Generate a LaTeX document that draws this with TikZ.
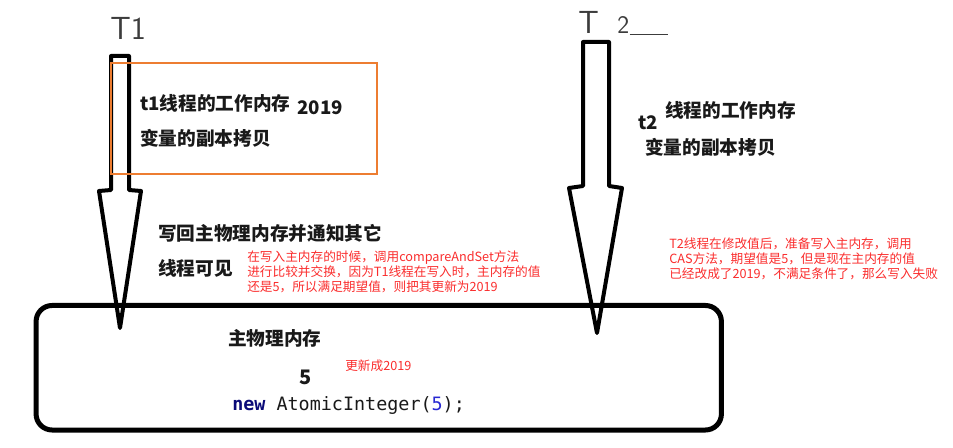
\documentclass[tikz,border=0pt]{standalone}
\usepackage{fontspec}
\usepackage{tikz}
\usetikzlibrary{arrows.meta}
\newfontfamily\cjk{Noto Sans CJK SC}
\newfontfamily\codefont{DejaVu Sans Mono}
\definecolor{inkblack}{RGB}{25,25,25}
\definecolor{pengray}{RGB}{60,60,60}
\definecolor{copyorange}{RGB}{237,125,49}
\definecolor{notered}{RGB}{250,45,45}
\definecolor{keynavy}{RGB}{10,10,120}
\definecolor{numblue}{RGB}{40,40,210}
\tikzset{
  boldtext/.style={inkblack, inner sep=0pt, anchor=west, font=\cjk\bfseries\fontsize{14}{16}\selectfont},
  notetext/.style={notered, inner sep=0pt, anchor=west, align=left, font=\cjk\fontsize{9.5}{11.25}\selectfont},
  handtext/.style={pengray, inner sep=0pt, anchor=base west, font=\sffamily\fontsize{24}{24}\selectfont},
  threadarrow/.style={black, line width=3pt, line join=round},
  membox/.style={draw, black, line width=3.75pt, rounded corners=12pt, inner sep=0pt, minimum width=514pt, minimum height=93.4pt},
}

\begin{document}
\begin{tikzpicture}[x=0.75pt, y=-0.75pt]
  \useasboundingbox (0,0) rectangle (953,448);
  % Thread T1
  \node[handtext] (t1label) at (110,40) {T1};
  \draw[threadarrow] (111,56) -- (129,56) -- (129,190) -- (141,191) -- (120,328) -- (99,191) -- (111,190) -- cycle;
  \draw[copyorange, line width=1.6pt] (111,63) rectangle (377,174);
  \node[boldtext] (t1copy) at (140,103) {t1线程的工作内存};
  \node[boldtext] (t1val) at (297,108) {2019};
  \node[boldtext] (t1var) at (140,138) {变量的副本拷贝};
  \node[boldtext] (writeback) at (158,233) {写回主物理内存并通知其它};
  \node[boldtext] (visible) at (158,268) {线程可见};
  \node[notetext] (casnote) at (247,272) {在写入主内存的时候，调用compareAndSet方法\\进行比较并交换，因为T1线程在写入时，主内存的值\\还是5，所以满足期望值，则把其更新为2019};
  % Thread T2
  \node[handtext] (t2label) at (578,34) {T\hspace{14pt}{\fontsize{19}{19}\selectfont 2}};
  \coordinate (t2tail) at (668,34);
  \draw[pengray, thin] (t2label.base east) -- (t2tail);
  \draw[threadarrow] (583,42) -- (609,42) -- (609,186) -- (622,188) -- (597,333) -- (569,188) -- (583,186) -- cycle;
  \node[boldtext] (t2copy) at (665,110) {线程的工作内存};
  \node[boldtext] (t2name) at (638,123) {t2};
  \node[boldtext] (t2var) at (645,147) {变量的副本拷贝};
  \node[notetext] (failnote) at (669,259) {T2线程在修改值后，准备写入主内存，调用\\CAS方法，期望值是5，但是现在主内存的值\\已经改成了2019，不满足条件了，那么写入失败};
  % Main memory
  \node[membox] (mem) at (378.75,367.75) {};
  \node[boldtext] (memname) at (228,338) {主物理内存};
  \node[boldtext, anchor=center, font=\cjk\bfseries\fontsize{15}{16}\selectfont] (memval) at (306,377) {5};
  \node[notetext] (updnote) at (345,366) {更新成2019};
  \node[inkblack, anchor=west, inner sep=0pt, font=\codefont\fontsize{13.8}{16}\selectfont] (code) at (232,405) {\textcolor{keynavy}{\bfseries new} AtomicInteger(\textcolor{numblue}{5});};
\end{tikzpicture}
\end{document}
